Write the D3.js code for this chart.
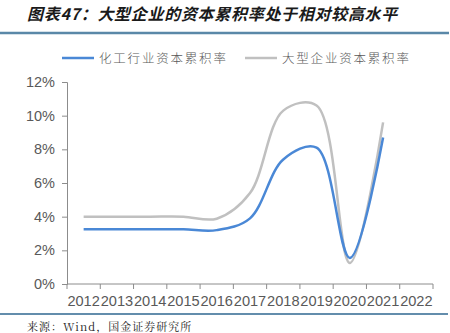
<!DOCTYPE html>
<html>
<head>
<meta charset="utf-8">
<script src="https://cdn.jsdelivr.net/npm/d3@7"></script>
<style>
  body { margin: 0; background: #fff; }
  svg { display: block; }
</style>
</head>
<body>
<svg id="chart" width="450" height="333"></svg>
<script>
// data (percent)
var years = ["2012","2013","2014","2015","2016","2017","2018","2019","2020","2021","2022"];
var chemYears = ["2012","2013","2014","2015","2016","2017","2018","2019","2020","2021"];
var chemRate = [3.25, 3.25, 3.25, 3.25, 3.2, 3.9, 7.4, 8.1, 1.55, 8.7];
var largeRate = [4.0, 4.0, 4.0, 4.0, 3.88, 5.4, 10.3, 10.6, 1.25, 9.6];
var yTicks = [0, 2, 4, 6, 8, 10, 12];
var seriesNames = ["化工行业资本累积率", "大型企业资本累积率"];
var seriesColors = ["#4a88d6", "#c0c0c0"];

var svg = d3.select("#chart");

// title + rules
svg.append("text")
    .attr("x", 27).attr("y", 20)
    .attr("font-family", "'Noto Sans CJK SC', sans-serif")
    .attr("font-size", 16)
    .attr("font-weight", "bold")
    .attr("font-style", "italic")
    .attr("letter-spacing", 0.7)
    .attr("fill", "#1a1a1a")
    .text("图表47：大型企业的资本累积率处于相对较高水平");

svg.append("line")
    .attr("x1", 0).attr("x2", 449).attr("y1", 33).attr("y2", 33)
    .attr("stroke", "#5a88a8").attr("stroke-width", 2.5);

svg.append("line")
    .attr("x1", 0).attr("x2", 448).attr("y1", 314).attr("y2", 314)
    .attr("stroke", "#2f6790").attr("stroke-width", 1.5);

svg.append("text")
    .attr("x", 27).attr("y", 331)
    .attr("font-family", "'Noto Serif CJK SC', 'Noto Sans CJK SC', serif")
    .attr("font-size", 11)
    .attr("letter-spacing", 1)
    .attr("fill", "#222")
    .text("来源：Wind，国金证券研究所");

// scales
var x = d3.scaleBand().domain(years).range([67, 433]).padding(0);
var y = d3.scaleLinear().domain([0, 12]).range([284, 82]);
var bw = x.bandwidth();

// y axis
var yAxis = d3.axisLeft(y)
    .tickValues(yTicks)
    .tickFormat(function(d){ return d + "%"; })
    .tickSize(5)
    .tickPadding(7);

var gy = svg.append("g").attr("transform", "translate(67,0)").call(yAxis);
gy.select(".domain").attr("stroke", "#8c8c8c");
gy.selectAll(".tick line").attr("stroke", "#8c8c8c");
gy.selectAll("text")
    .attr("font-family", "'Liberation Sans', Arial, sans-serif")
    .attr("font-size", 14.5)
    .attr("fill", "#595959");

// x axis: ticks on category boundaries, labels centred
var edges = years.map(function(d){ return x(d); }).concat([x.range()[1]]);
var gx = svg.append("g");
gx.append("line")
    .attr("x1", 67).attr("x2", 433)
    .attr("y1", y(0)).attr("y2", y(0))
    .attr("stroke", "#8c8c8c");
gx.selectAll("line.tk").data(edges).enter().append("line")
    .attr("class", "tk")
    .attr("x1", function(d){ return d; }).attr("x2", function(d){ return d; })
    .attr("y1", y(0)).attr("y2", y(0) + 5)
    .attr("stroke", "#8c8c8c");
gx.selectAll("text").data(years).enter().append("text")
    .attr("x", function(d){ return x(d) + bw / 2; })
    .attr("y", 306)
    .attr("text-anchor", "middle")
    .attr("font-family", "'Liberation Sans', Arial, sans-serif")
    .attr("font-size", 14.6)
    .attr("fill", "#595959")
    .text(function(d){ return d; });

// lines (gray under blue)
var line = d3.line()
    .x(function(d, i){ return x(chemYears[i]) + bw / 2; })
    .y(function(d){ return y(d); })
    .curve(d3.curveCatmullRom.alpha(0.5));

svg.append("path")
    .datum(largeRate)
    .attr("d", line)
    .attr("fill", "none")
    .attr("stroke", seriesColors[1])
    .attr("stroke-width", 2.5);

svg.append("path")
    .datum(chemRate)
    .attr("d", line)
    .attr("fill", "none")
    .attr("stroke", seriesColors[0])
    .attr("stroke-width", 2.5);

// legend
var legendX = [62, 245];
var lg = svg.selectAll("g.legend").data(seriesNames).enter().append("g")
    .attr("class", "legend")
    .attr("transform", function(d, i){ return "translate(" + legendX[i] + ",58)"; });
lg.append("line")
    .attr("x1", 0).attr("x2", 32).attr("y1", 0).attr("y2", 0)
    .attr("stroke", function(d, i){ return seriesColors[i]; })
    .attr("stroke-width", 2.5);
lg.append("text")
    .attr("x", 37).attr("y", 5)
    .attr("font-family", "'Noto Sans CJK SC', sans-serif")
    .attr("font-size", 12.5)
    .attr("font-weight", 300)
    .attr("letter-spacing", 1.8)
    .attr("fill", "#595959")
    .text(function(d){ return d; });
</script>
</body>
</html>
